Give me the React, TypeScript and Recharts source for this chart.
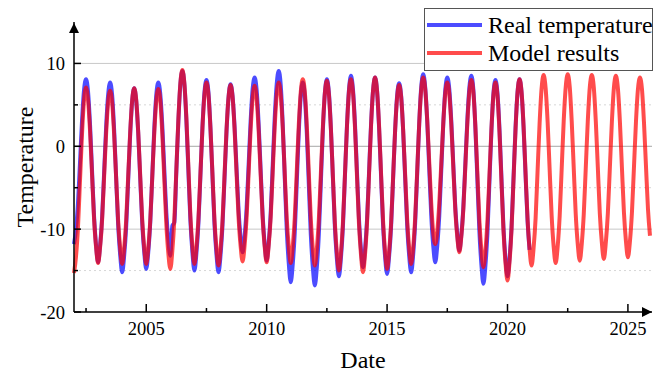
import React from 'react';
import { LineChart, Line, XAxis, YAxis, CartesianGrid, Legend, ReferenceDot } from 'recharts';

const FONT = '"Liberation Serif", "Times New Roman", serif';

const startYear = 2002;

// monthly values, Jan..Dec, one row per year (2002-2020)
const realTemp = [
  -11.8, -10.0, -6.8, -1.9, 3.1, 6.8, 8.1, 6.6, 2.6, -3.0, -8.5, -12.0,
  -14.0, -12.0, -8.6, -3.2, 2.3, 6.2, 7.7, 6.2, 2.0, -3.8, -9.5, -13.1,
  -15.2, -13.2, -9.7, -4.1, 1.5, 5.5, 7.0, 5.5, 1.6, -3.9, -9.3, -12.8,
  -14.8, -12.8, -9.2, -3.6, 2.1, 6.2, 7.7, 6.3, 2.5, -2.8, -8.0, -11.3,
  -13.2, -9.6, -9.2, -3.0, 3.0, 7.5, 9.1, 7.5, 3.1, -3.0, -9.0, -12.8,
  -15.0, -12.9, -9.3, -3.5, 2.3, 6.5, 8.0, 6.5, 2.2, -3.6, -9.4, -13.1,
  -15.2, -13.2, -9.5, -3.9, 1.8, 5.9, 7.5, 6.1, 2.4, -2.7, -7.7, -11.0,
  -12.8, -10.9, -7.5, -2.3, 3.0, 6.9, 8.3, 6.8, 2.7, -2.8, -8.3, -11.8,
  -13.8, -11.7, -8.1, -2.4, 3.4, 7.5, 9.1, 7.4, 2.7, -3.7, -10.0, -14.1,
  -16.4, -14.2, -10.4, -4.4, 1.7, 6.1, 7.7, 6.1, 1.6, -4.6, -10.7, -14.6,
  -16.8, -14.6, -10.6, -4.4, 1.9, 6.4, 8.1, 6.5, 2.2, -3.8, -9.8, -13.6,
  -15.7, -13.5, -9.7, -3.6, 2.4, 6.8, 8.5, 6.9, 2.7, -3.1, -8.8, -12.5,
  -14.6, -12.5, -8.9, -3.2, 2.6, 6.7, 8.3, 6.7, 2.3, -3.6, -9.5, -13.3,
  -15.4, -13.3, -9.7, -3.9, 1.9, 6.1, 7.6, 6.1, 1.9, -3.8, -9.5, -13.2,
  -15.2, -13.1, -9.2, -3.3, 2.7, 7.1, 8.7, 7.1, 3.0, -2.7, -8.3, -12.0,
  -14.0, -12.0, -8.4, -2.9, 2.7, 6.8, 8.3, 6.9, 3.0, -2.2, -7.4, -10.7,
  -12.6, -10.7, -7.3, -2.1, 3.2, 7.1, 8.5, 6.8, 2.2, -4.1, -10.3, -14.3,
  -16.6, -14.4, -10.5, -4.3, 1.9, 6.4, 8.0, 6.4, 2.1, -3.9, -9.8, -13.6,
  -15.7, -13.6, -9.8, -3.8, 2.2, 6.5, 8.1, 6.5, 2.3, -3.5, -9.0, -12.5,
];

// monthly model output, Jan..Dec, 2002-2025
const modelTemp = [
  -15.3, -13.3, -9.7, -4.1, 1.5, 5.6, 7.1, 5.6, 1.8, -3.5, -8.8, -12.2,
  -14.1, -12.2, -8.9, -3.7, 1.5, 5.3, 6.7, 5.3, 1.4, -3.8, -9.0, -12.3,
  -14.2, -12.3, -8.9, -3.6, 1.7, 5.6, 7.0, 5.6, 1.7, -3.6, -8.9, -12.3,
  -14.2, -12.3, -8.9, -3.7, 1.6, 5.5, 6.9, 5.5, 1.5, -4.0, -9.4, -12.9,
  -14.8, -12.6, -8.8, -2.8, 3.2, 7.6, 9.2, 7.6, 3.4, -2.5, -8.4, -12.1,
  -14.2, -12.2, -8.7, -3.3, 2.2, 6.2, 7.7, 6.2, 2.1, -3.4, -8.9, -12.4,
  -14.4, -12.4, -9.0, -3.5, 2.0, 5.9, 7.4, 6.0, 2.1, -3.3, -8.6, -12.0,
  -13.9, -12.0, -8.6, -3.3, 2.0, 5.8, 7.3, 5.8, 1.9, -3.4, -8.7, -12.1,
  -14.0, -12.0, -8.6, -3.2, 2.3, 6.2, 7.7, 6.2, 2.3, -3.2, -8.7, -12.1,
  -14.1, -12.1, -8.6, -3.0, 2.6, 6.6, 8.1, 6.6, 2.5, -3.2, -8.8, -12.4,
  -14.4, -12.4, -8.8, -3.3, 2.3, 6.4, 7.9, 6.3, 2.1, -3.6, -9.3, -12.9,
  -15.0, -12.9, -9.2, -3.5, 2.3, 6.6, 8.1, 6.5, 2.3, -3.6, -9.4, -13.1,
  -15.2, -13.1, -9.3, -3.5, 2.4, 6.7, 8.3, 6.7, 2.5, -3.3, -9.0, -12.7,
  -14.8, -12.8, -9.3, -3.7, 1.9, 5.9, 7.4, 6.0, 2.0, -3.4, -8.8, -12.3,
  -14.2, -12.2, -8.6, -3.0, 2.7, 6.8, 8.3, 6.9, 3.2, -1.9, -6.9, -10.5,
  -11.8, -10.3, -6.9, -2.1, 2.8, 6.4, 7.7, 6.3, 2.6, -2.6, -7.7, -11.0,
  -12.8, -10.9, -7.6, -2.4, 2.8, 6.6, 8.0, 6.5, 2.4, -3.3, -9.0, -12.6,
  -14.6, -12.6, -9.0, -3.5, 2.1, 6.2, 7.7, 6.1, 1.7, -4.3, -10.2, -14.1,
  -16.2, -14.0, -10.1, -4.1, 2.0, 6.5, 8.1, 6.6, 2.5, -3.2, -8.8, -12.4,
  -14.4, -12.3, -8.7, -2.9, 2.8, 7.0, 8.6, 7.0, 2.9, -2.8, -8.4, -12.1,
  -14.1, -12.1, -8.4, -2.7, 3.0, 7.1, 8.7, 7.2, 3.0, -2.6, -8.2, -11.8,
  -13.8, -11.8, -8.2, -2.6, 3.0, 7.1, 8.6, 7.1, 3.0, -2.5, -8.1, -11.6,
  -13.6, -11.6, -8.1, -2.6, 2.9, 7.0, 8.5, 7.0, 3.0, -2.5, -7.9, -11.4,
  -13.4, -11.5, -8.0, -2.6, 2.9, 6.9, 8.3, 6.9, 2.9, -2.4, -7.6, -10.8,
];

const seriesNames = ['Real temperature', 'Model results'];

const xTicks = [2002.5, 2005, 2007.5, 2010, 2012.5, 2015, 2017.5, 2020, 2022.5, 2025];
const xLabels = [2005, 2010, 2015, 2020, 2025];
const yTicks = [-20, -15, -10, -5, 0, 5, 10];
const yLabels = [-20, -10, 0, 10];

const data = modelTemp.map((m, i) => ({
  t: startYear + i / 12,
  model: m,
  real: i < realTemp.length ? realTemp[i] : null,
}));

const XTick = ({ x, y, payload }: any) => {
  const major = xLabels.includes(payload.value);
  return (
    <g>
      <line x1={x} x2={x} y1={y} y2={y - (major ? 8 : 4)} stroke="#000" strokeWidth={1.5} />
      {major && (
        <text x={x} y={y + 23} textAnchor="middle" fontSize={18.5} style={{ fontFamily: FONT }} fill="#000">
          {payload.value}
        </text>
      )}
    </g>
  );
};

const YTick = ({ x, y, payload }: any) => {
  const major = yLabels.includes(payload.value);
  return (
    <g>
      <line x1={x} x2={x + (major ? 7 : 4)} y1={y} y2={y} stroke="#000" strokeWidth={1.5} />
      {major && (
        <text x={x - 9} y={y + 6.5} textAnchor="end" fontSize={18.5} style={{ fontFamily: FONT }} fill="#000">
          {payload.value}
        </text>
      )}
    </g>
  );
};

const XTitle = ({ viewBox }: any) => (
  <text x={viewBox.x + viewBox.width / 2} y={368} textAnchor="middle" fontSize={24} style={{ fontFamily: FONT }} fill="#000">
    Date
  </text>
);

const YTitle = ({ viewBox }: any) => {
  const cx = viewBox.x + 33;
  const cy = viewBox.y + viewBox.height / 2;
  return (
    <text x={cx} y={cy} transform={`rotate(-90 ${cx} ${cy})`} textAnchor="middle" fontSize={24} style={{ fontFamily: FONT }} fill="#000">
      Temperature
    </text>
  );
};

const LegendBox = ({ payload }: any) => {
  const items = [...(payload || [])].sort((a: any, b: any) => seriesNames.indexOf(a.value) - seriesNames.indexOf(b.value));
  return (
    <div
      style={{
        width: 229,
        height: 63,
        boxSizing: 'border-box',
        border: '1px solid #555',
        background: '#fff',
        position: 'relative',
        fontFamily: FONT,
      }}
    >
      {items.map((e: any, i: number) => (
        <div key={e.value} style={{ position: 'absolute', left: 0, top: 2 + i * 28, height: 28, width: '100%' }}>
          <div style={{ position: 'absolute', left: 2, top: 12, width: 55, height: 4, background: e.color, opacity: 0.7 }} />
          <span style={{ position: 'absolute', left: 63, top: 0, lineHeight: '28px', fontSize: 24, color: '#000', whiteSpace: 'nowrap', fontFamily: FONT }}>
            {e.value}
          </span>
        </div>
      ))}
    </div>
  );
};

const upArrow = (p: any) => <path d={`M${p.cx},${p.cy + 1} l-5,10 l10,0 z`} fill="#000" />;
const rightArrow = (p: any) => <path d={`M${p.cx},${p.cy} l-10,-5 l0,10 z`} fill="#000" />;

export default function App() {
  return (
    <div style={{ position: 'absolute', left: 0, top: 0, background: '#fff', fontFamily: FONT }}>
      <LineChart width={665} height={380} data={data} margin={{ top: 22, right: 13, bottom: 0, left: 0 }}>
        <CartesianGrid vertical={false} horizontalValues={[5, -5, -15]} stroke="#d6d6d6" strokeDasharray="2 3" />
        <CartesianGrid vertical={false} horizontalValues={[10, -10]} stroke="#c8c8c8" />
        <CartesianGrid vertical={false} horizontalValues={[0]} stroke="#a6a6a6" />
        <XAxis
          dataKey="t"
          type="number"
          domain={[2002, 2026]}
          ticks={xTicks}
          interval={0}
          height={68}
          tickSize={0}
          tickMargin={0}
          tickLine={false}
          axisLine={{ stroke: '#000', strokeWidth: 1.5 }}
          tick={<XTick />}
          label={{ content: XTitle }}
        />
        <YAxis
          type="number"
          domain={[-20, 15]}
          ticks={yTicks}
          interval={0}
          width={74}
          tickSize={0}
          tickMargin={0}
          tickLine={false}
          axisLine={{ stroke: '#000', strokeWidth: 1.5 }}
          tick={<YTick />}
          label={{ content: YTitle }}
        />
        <Legend
          layout="vertical"
          align="center"
          verticalAlign="middle"
          content={<LegendBox />}
          wrapperStyle={{ left: 424, top: 8, width: 229, height: 63 }}
        />
        <Line
          dataKey="real"
          name={seriesNames[0]}
          type="monotone"
          stroke="#0000ff"
          strokeOpacity={0.7}
          strokeWidth={4}
          dot={false}
          activeDot={false}
          isAnimationActive={false}
        />
        <Line
          dataKey="model"
          name={seriesNames[1]}
          type="monotone"
          stroke="#ff0000"
          strokeOpacity={0.7}
          strokeWidth={4}
          dot={false}
          activeDot={false}
          isAnimationActive={false}
        />
        <ReferenceDot x={2002} y={15} r={0} shape={upArrow} />
        <ReferenceDot x={2026} y={-20} r={0} shape={rightArrow} />
      </LineChart>
    </div>
  );
}
